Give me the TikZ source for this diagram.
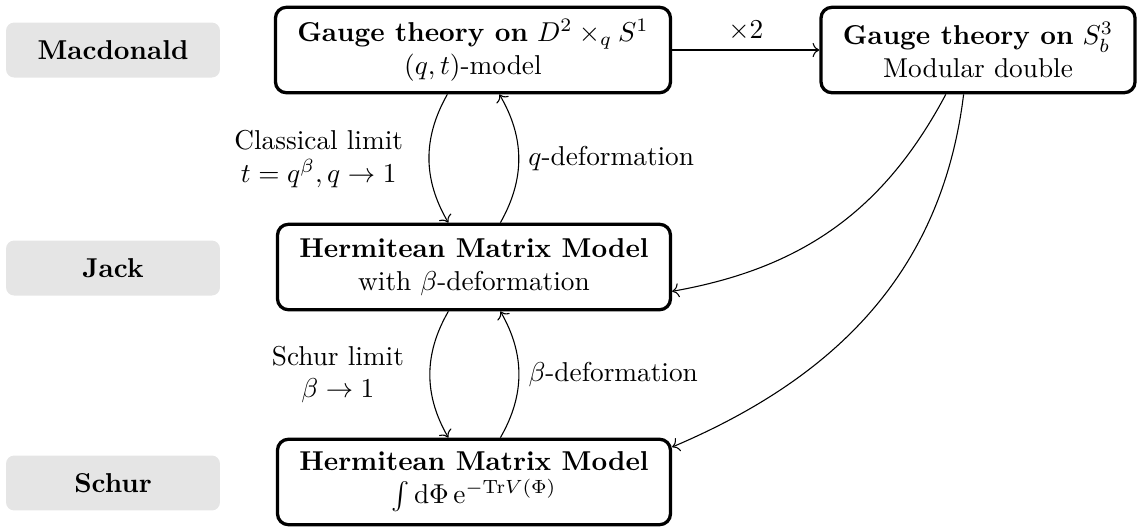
\documentclass[tikz,border=0pt]{standalone}
\usepackage{amsmath}
\usetikzlibrary{arrows.meta,positioning}
\definecolor{tagfill}{HTML}{E5E5E5}
\tikzset{
  tag/.style={
    fill=tagfill, rounded corners=3pt,
    minimum width=2.755cm, minimum height=0.708cm,
    font=\bfseries
  },
  model/.style={
    draw, very thick, rounded corners=4pt,
    inner xsep=8pt, minimum height=1.1cm,
    align=center
  },
  link/.style={->}
}

\begin{document}
\begin{tikzpicture}
  \useasboundingbox (0,0) rectangle (14.64,-6.773);
  % levels
  \node[tag] (mac) at (1.455,-0.644) {Macdonald};
  \node[tag] (jack) at (1.455,-3.451) {Jack};
  \node[tag] (schur) at (1.455,-6.219) {Schur};

  % models
  \node[model] (gauge) at (6.09,-0.644) {\textbf{Gauge theory on} $D^2\times_q S^1$\\$(q,t)$-model};
  \node[model] (gaugeb) at (12.593,-0.644) {\textbf{Gauge theory on} $S^3_b$\\Modular double};
  \node[model] (hmm) at (6.103,-3.438) {\textbf{Hermitean Matrix Model}\\with $\beta$-deformation};
  \node[model] (hmmz) at (6.103,-6.206) {\textbf{Hermitean Matrix Model}\\$\int \mathrm{d}\Phi\,\mathrm{e}^{-\mathrm{Tr}V(\Phi)}$};

  \draw[link] (gauge) -- node[above] {$\times2$} (gaugeb);

  \draw[link] ([xshift=-0.33cm]gauge.south) to[bend right=30]
    node[left=6pt, align=center] {Classical limit\\$t=q^\beta, q\to1$} ([xshift=-0.33cm]hmm.north);
  \draw[link] ([xshift=0.34cm]hmm.north) to[bend right=30]
    node[right] {$q$-deformation} ([xshift=0.34cm]gauge.south);

  \draw[link] ([xshift=-0.33cm]hmm.south) to[bend right=30]
    node[left=6pt, align=center] {Schur limit\\$\beta\to1$} ([xshift=-0.33cm]hmmz.north);
  \draw[link] ([xshift=0.34cm]hmmz.north) to[bend right=30]
    node[right] {$\beta$-deformation} ([xshift=0.34cm]hmm.south);

  \draw[link] (gaugeb.-126) to[out=-118, in=10] (hmm.-7);
  \draw[link] (gaugeb.-108) to[out=-97, in=23] (hmmz.10);
\end{tikzpicture}
\end{document}
